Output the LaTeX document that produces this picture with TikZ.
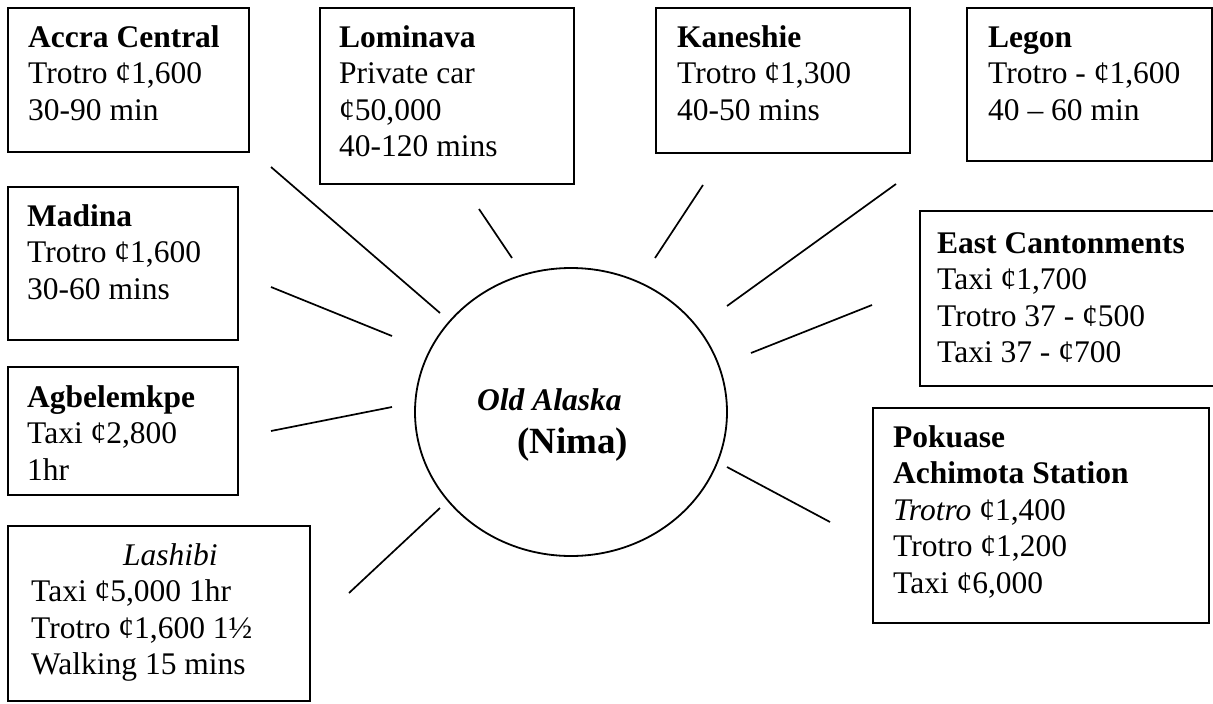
\documentclass[tikz,border=0pt]{standalone}
\usepackage{fontspec}
\setmainfont{Liberation Serif}
\usetikzlibrary{shapes.geometric}
\newcommand\bodytext{\fontsize{31.5}{36.5}\selectfont}
\newcommand\nimatext{\fontsize{37}{42}\selectfont\bfseries}
\begin{document}
\begin{tikzpicture}[x=1pt,y=-1pt,
  place/.style={draw, line width=2.2pt, rectangle, inner sep=0pt, anchor=north west},
  info/.style={anchor=north west, inner sep=0pt, align=left, font=\bodytext, yshift=25.55pt},
  spoke/.style={line width=1.7pt},
  hubshape/.style={draw, ellipse, line width=1.8pt, inner sep=0pt}
]
\useasboundingbox (0,0) rectangle (1213,704);

% destination boxes
\node[place, minimum width=241pt, minimum height=144pt] (accra) at (7,7) {};
\node[place, minimum width=254pt, minimum height=176pt] (lomi) at (319,7) {};
\node[place, minimum width=254pt, minimum height=145pt] (kane) at (655,7) {};
\node[place, minimum width=245pt, minimum height=153pt] (legon) at (966,7) {};
\node[place, minimum width=230pt, minimum height=153pt] (madina) at (7,186) {};
\node[place, minimum width=300pt, minimum height=175pt] (eastc) at (919,210) {};
\node[place, minimum width=230pt, minimum height=128pt] (agbe) at (7,366) {};
\node[place, minimum width=336pt, minimum height=215pt] (poku) at (872,407) {};
\node[place, minimum width=302pt, minimum height=175pt] (lash) at (7,525) {};

% box texts
\node[info] (accraT) at (28,47) {\strut\textbf{Accra Central}\\Trotro ¢1,600\\30-90 min};
\node[info] (lomiT) at (339,47) {\strut\textbf{Lominava}\\Private car\\¢50,000\\40-120 mins};
\node[info] (kaneT) at (677,47) {\strut\textbf{Kaneshie}\\Trotro ¢1,300\\40-50 mins};
\node[info] (legonT) at (988,47) {\strut\textbf{Legon}\\Trotro - ¢1,600\\40 – 60 min};
\node[info] (madinaT) at (27,226) {\strut\textbf{Madina}\\Trotro ¢1,600\\30-60 mins};
\node[info] (eastcT) at (937,253) {\strut\textbf{East Cantonments}\\Taxi ¢1,700\\Trotro 37 - ¢500\\Taxi 37 - ¢700};
\node[info] (agbeT) at (27,407) {\strut\textbf{Agbelemkpe}\\Taxi ¢2,800\\1hr};
\node[info] (pokuT) at (893,447) {\strut\textbf{Pokuase}\\\textbf{Achimota Station}\\\textit{Trotro} ¢1,400\\Trotro ¢1,200\\Taxi ¢6,000};
\node[info] (lashT) at (31,565) {\strut\hspace*{92pt}\textit{Lashibi}\\Taxi ¢5,000 1hr\\Trotro ¢1,600 1½\\Walking 15 mins};

% central place
\node[hubshape, minimum width=312pt, minimum height=288pt] (hub) at (571,412) {};
\node[anchor=base west, inner sep=0pt, font=\bodytext] (hubA) at (477,410) {\textbf{\textit{Old Alaska}}};
\node[anchor=base west, inner sep=0pt, font=\nimatext] (hubB) at (517,453) {(Nima)};

% spoke end points
\coordinate (s1a) at (271,167); \coordinate (s1b) at (440,313);
\coordinate (s2a) at (479,209); \coordinate (s2b) at (512,258);
\coordinate (s3a) at (271,287); \coordinate (s3b) at (392,336);
\coordinate (s4a) at (271,431); \coordinate (s4b) at (392,407);
\coordinate (s5a) at (349,593); \coordinate (s5b) at (440,508);
\coordinate (s6a) at (703,185); \coordinate (s6b) at (655,258);
\coordinate (s7a) at (896,184); \coordinate (s7b) at (727,306);
\coordinate (s8a) at (872,305); \coordinate (s8b) at (751,353);
\coordinate (s9a) at (727,467); \coordinate (s9b) at (830,522);

% spokes
\foreach \k in {1,...,9} \draw[spoke] (s\k a) -- (s\k b);
\end{tikzpicture}
\end{document}
